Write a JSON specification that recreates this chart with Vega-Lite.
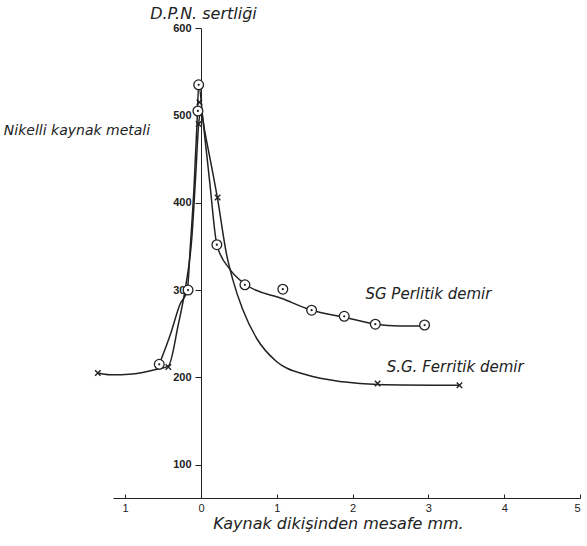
{
  "$schema": "https://vega.github.io/schema/vega-lite/v6.json",
  "autosize": "none",
  "width": 467,
  "height": 470,
  "padding": {"left": 113, "top": 28, "right": 7, "bottom": 48},
  "background": "#ffffff",
  "config": {
    "view": {"stroke": null},
    "font": "DejaVu Sans",
    "axis": {"grid": false, "domainColor": "#222222", "tickColor": "#222222", "labelColor": "#222222", "titleColor": "#222222", "labelFont": "Liberation Sans", "titleFont": "DejaVu Sans"}
  },
  "datasets": {
    "curves": [
      {"series": "Ferritik", "x": -1.36, "y": 205},
      {"series": "Ferritik", "x": -1.2, "y": 203},
      {"series": "Ferritik", "x": -0.9, "y": 204},
      {"series": "Ferritik", "x": -0.6, "y": 209},
      {"series": "Ferritik", "x": -0.43, "y": 213},
      {"series": "Ferritik", "x": -0.3, "y": 260},
      {"series": "Ferritik", "x": -0.2, "y": 305},
      {"series": "Ferritik", "x": -0.12, "y": 360},
      {"series": "Ferritik", "x": -0.07, "y": 430},
      {"series": "Ferritik", "x": -0.03, "y": 490},
      {"series": "Ferritik", "x": 0.0, "y": 505},
      {"series": "Ferritik", "x": 0.05, "y": 482},
      {"series": "Ferritik", "x": 0.22, "y": 404},
      {"series": "Ferritik", "x": 0.34, "y": 340},
      {"series": "Ferritik", "x": 0.42, "y": 312},
      {"series": "Ferritik", "x": 0.55, "y": 278},
      {"series": "Ferritik", "x": 0.74, "y": 244},
      {"series": "Ferritik", "x": 1.0, "y": 218},
      {"series": "Ferritik", "x": 1.39, "y": 203},
      {"series": "Ferritik", "x": 1.87, "y": 195},
      {"series": "Ferritik", "x": 2.33, "y": 192},
      {"series": "Ferritik", "x": 3.41, "y": 191},
      {"series": "Perlitik", "x": -0.55, "y": 215},
      {"series": "Perlitik", "x": -0.4, "y": 250},
      {"series": "Perlitik", "x": -0.28, "y": 283},
      {"series": "Perlitik", "x": -0.18, "y": 300},
      {"series": "Perlitik", "x": -0.14, "y": 350},
      {"series": "Perlitik", "x": -0.09, "y": 420},
      {"series": "Perlitik", "x": -0.05, "y": 495},
      {"series": "Perlitik", "x": -0.03, "y": 535},
      {"series": "Perlitik", "x": 0.03, "y": 492},
      {"series": "Perlitik", "x": 0.12, "y": 420},
      {"series": "Perlitik", "x": 0.21, "y": 352},
      {"series": "Perlitik", "x": 0.38, "y": 324},
      {"series": "Perlitik", "x": 0.58, "y": 307},
      {"series": "Perlitik", "x": 1.08, "y": 290},
      {"series": "Perlitik", "x": 1.46, "y": 277},
      {"series": "Perlitik", "x": 1.89, "y": 269},
      {"series": "Perlitik", "x": 2.3, "y": 261},
      {"series": "Perlitik", "x": 2.62, "y": 259},
      {"series": "Perlitik", "x": 2.95, "y": 259}
    ],
    "circles": [
      {"x": -0.55, "y": 215},
      {"x": -0.17, "y": 300},
      {"x": -0.03, "y": 535},
      {"x": -0.04, "y": 505},
      {"x": 0.21, "y": 352},
      {"x": 0.58, "y": 306},
      {"x": 1.08, "y": 301},
      {"x": 1.46, "y": 277},
      {"x": 1.89, "y": 270},
      {"x": 2.3, "y": 261},
      {"x": 2.95, "y": 260}
    ],
    "crosses": [
      {"x": -1.36, "y": 205},
      {"x": -0.43, "y": 212},
      {"x": -0.02, "y": 515},
      {"x": -0.03, "y": 490},
      {"x": 0.22, "y": 406},
      {"x": 2.33, "y": 193},
      {"x": 3.41, "y": 191}
    ],
    "leftLabels": [
      {"text": "Nikelli kaynak metali", "x": -0.67, "y": 482}
    ],
    "rightLabels": [
      {"text": "SG Perlitik demir", "x": 2.17, "y": 296},
      {"text": "S.G. Ferritik demir", "x": 2.45, "y": 212}
    ]
  },
  "layer": [
    {
      "data": {"name": "curves"},
      "mark": {"type": "line", "interpolate": "monotone", "color": "#222222", "strokeWidth": 1.5},
      "encoding": {
        "x": {"field": "x", "type": "quantitative", "scale": {"domain": [-1.16, 5], "nice": false, "zero": false},
          "axis": {"values": [-1, 0, 1, 2, 3, 4, 5], "labelExpr": "format(abs(datum.value), 'd')", "tickSize": -4, "labelPadding": 8, "labelFontSize": 11, "title": "Kaynak dikişinden mesafe mm.", "titleFontSize": 16, "titleFontStyle": "italic", "titleFontWeight": "normal", "titlePadding": 2, "titleX": 225, "titleAlign": "center"}},
        "y": {"field": "y", "type": "quantitative", "scale": {"domain": [62, 600], "nice": false, "zero": false},
          "axis": {"values": [100, 200, 300, 400, 500, 600], "offset": -88, "tickSize": 6, "labelPadding": 4, "labelFontSize": 11, "labelFontWeight": "bold", "title": "D.P.N. sertliği", "titleAngle": 0, "titleX": 2, "titleY": -15, "titleAlign": "center", "titleBaseline": "middle", "titleFontSize": 16, "titleFontStyle": "italic", "titleFontWeight": "normal"}},
        "detail": {"field": "series"}
      }
    },
    {
      "data": {"name": "circles"},
      "mark": {"type": "point", "shape": "circle", "filled": true, "fill": "#ffffff", "stroke": "#222222", "strokeWidth": 1.3, "size": 95, "opacity": 1},
      "encoding": {"x": {"field": "x", "type": "quantitative"}, "y": {"field": "y", "type": "quantitative"}}
    },
    {
      "data": {"name": "circles"},
      "mark": {"type": "point", "shape": "circle", "filled": true, "color": "#222222", "size": 5, "opacity": 1},
      "encoding": {"x": {"field": "x", "type": "quantitative"}, "y": {"field": "y", "type": "quantitative"}}
    },
    {
      "data": {"name": "crosses"},
      "mark": {"type": "point", "shape": "M-1,-1L1,1M-1,1L1,-1", "filled": false, "stroke": "#222222", "strokeWidth": 1.4, "size": 30, "opacity": 1},
      "encoding": {"x": {"field": "x", "type": "quantitative"}, "y": {"field": "y", "type": "quantitative"}}
    },
    {
      "data": {"name": "leftLabels"},
      "mark": {"type": "text", "fontSize": 14, "fontStyle": "italic", "font": "DejaVu Sans", "color": "#222222", "baseline": "middle", "align": "right"},
      "encoding": {
        "x": {"field": "x", "type": "quantitative"},
        "y": {"field": "y", "type": "quantitative"},
        "text": {"field": "text"}
      }
    },
    {
      "data": {"name": "rightLabels"},
      "mark": {"type": "text", "fontSize": 15, "fontStyle": "italic", "font": "DejaVu Sans", "color": "#222222", "baseline": "middle", "align": "left"},
      "encoding": {
        "x": {"field": "x", "type": "quantitative"},
        "y": {"field": "y", "type": "quantitative"},
        "text": {"field": "text"}
      }
    }
  ]
}
